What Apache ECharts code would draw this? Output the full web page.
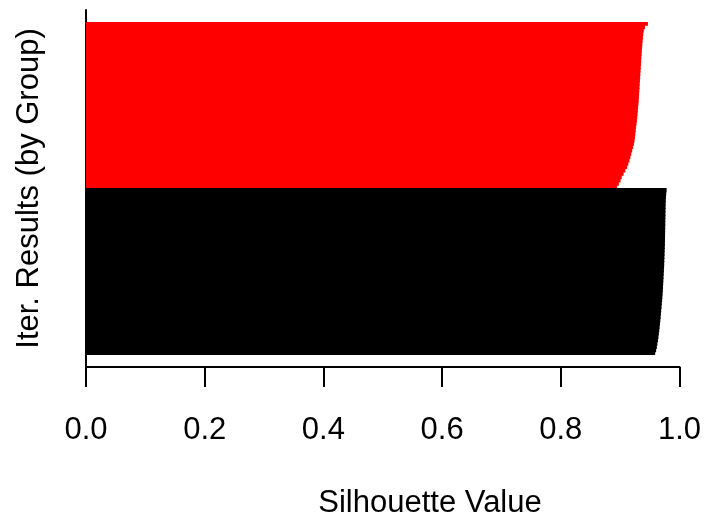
<!DOCTYPE html>
<html>
<head>
<meta charset="utf-8">
<script src="https://cdn.jsdelivr.net/npm/echarts@6/dist/echarts.min.js"></script>
<style>
  html, body { margin: 0; padding: 0; background: #ffffff; }
  #chart { width: 704px; height: 516px; }
</style>
</head>
<body>
<div id="chart"></div>
<script>
// Silhouette widths per observation, sorted within each group (top to bottom)
const group1Values = [
  0.9460, 0.9410, 0.9390, 0.9382, 0.9376, 0.9371, 0.9366, 0.9362, 0.9358, 0.9354,
  0.9350, 0.9346, 0.9343, 0.9339, 0.9336, 0.9332, 0.9329, 0.9325, 0.9322, 0.9318,
  0.9315, 0.9311, 0.9308, 0.9305, 0.9300, 0.9295, 0.9290, 0.9285, 0.9280, 0.9275,
  0.9268, 0.9260, 0.9255, 0.9248, 0.9242, 0.9235, 0.9225, 0.9210, 0.9195, 0.9180,
  0.9165, 0.9150, 0.9130, 0.9110, 0.9080, 0.9050, 0.9020, 0.9000, 0.8970, 0.8940
];
const group2Values = [
  0.9775, 0.9768, 0.9764, 0.9761, 0.9759, 0.9757, 0.9756, 0.9755, 0.9754, 0.9753,
  0.9752, 0.9751, 0.9750, 0.9749, 0.9748, 0.9747, 0.9746, 0.9744, 0.9742, 0.9740,
  0.9738, 0.9736, 0.9734, 0.9732, 0.9729, 0.9726, 0.9723, 0.9720, 0.9717, 0.9714,
  0.9711, 0.9707, 0.9703, 0.9699, 0.9694, 0.9689, 0.9684, 0.9679, 0.9674, 0.9669,
  0.9663, 0.9657, 0.9651, 0.9644, 0.9637, 0.9629, 0.9620, 0.9610, 0.9598, 0.9582
];
const groupColors = ['#ff0000', '#000000'];
const xTicks = [0.0, 0.2, 0.4, 0.6, 0.8, 1.0];
const xTitle = 'Silhouette Value';
const yTitle = 'Iter. Results (by Group)';

// One category per observation, group 1 first
const n1 = group1Values.length, n2 = group2Values.length;
const categories = [];
for (let i = 0; i < n1 + n2; i++) categories.push('obs' + (i + 1));
const series1 = group1Values.concat(new Array(n2).fill('-'));
const series2 = new Array(n1).fill('-').concat(group2Values);

const FONT = 'Liberation Sans, Arial, Helvetica, sans-serif';
const chart = echarts.init(document.getElementById('chart'), null, { renderer: 'canvas' });

// bars slightly taller than their band so neighbours overlap and leave no seams
const BAR_W = 4.4;

chart.setOption({
  animation: false,
  backgroundColor: '#ffffff',
  title: {
    text: xTitle,
    left: 425,
    top: 483,
    textAlign: 'center',
    textStyle: { fontFamily: FONT, fontSize: 31, fontWeight: 'normal', color: '#000' }
  },
  grid: [
    // bars
    { left: 86, right: 24, top: 22, bottom: 161 },
    // frame: plotting region with the axes
    { left: 86, right: 24, top: 10, bottom: 149 }
  ],
  xAxis: [
    { gridIndex: 0, type: 'value', min: 0, max: 1, show: false },
    {
      gridIndex: 1, type: 'value', min: 0, max: 1, interval: 0.2,
      axisLine: { show: true, lineStyle: { color: '#000', width: 2 } },
      axisTick: { show: true, length: 20, lineStyle: { color: '#000', width: 2 } },
      splitLine: { show: false },
      axisLabel: {
        margin: 48, fontFamily: FONT, fontSize: 31, color: '#000',
        formatter: v => {
          const t = xTicks.find(k => Math.abs(k - v) < 1e-9);
          return t === undefined ? '' : t.toFixed(1);
        }
      }
    }
  ],
  yAxis: [
    {
      gridIndex: 0, type: 'category', data: categories, inverse: true,
      axisLine: { show: false }, axisTick: { show: false }, axisLabel: { show: false },
      splitLine: { show: false }
    },
    {
      gridIndex: 1, type: 'value', min: 0, max: 1,
      axisLine: { show: true, lineStyle: { color: '#000', width: 2 } },
      axisTick: { show: false }, axisLabel: { show: false }, splitLine: { show: false },
      name: yTitle, nameLocation: 'middle', nameGap: 41, nameRotate: 90,
      nameTextStyle: { fontFamily: FONT, fontSize: 31, color: '#000' }
    }
  ],
  series: [
    {
      type: 'bar', xAxisIndex: 0, yAxisIndex: 0, data: series1,
      barWidth: BAR_W, barGap: '-100%',
      itemStyle: { color: groupColors[0] }, silent: true
    },
    {
      type: 'bar', xAxisIndex: 0, yAxisIndex: 0, data: series2,
      barWidth: BAR_W, barGap: '-100%',
      itemStyle: { color: groupColors[1] }, silent: true
    }
  ]
});
</script>
</body>
</html>
